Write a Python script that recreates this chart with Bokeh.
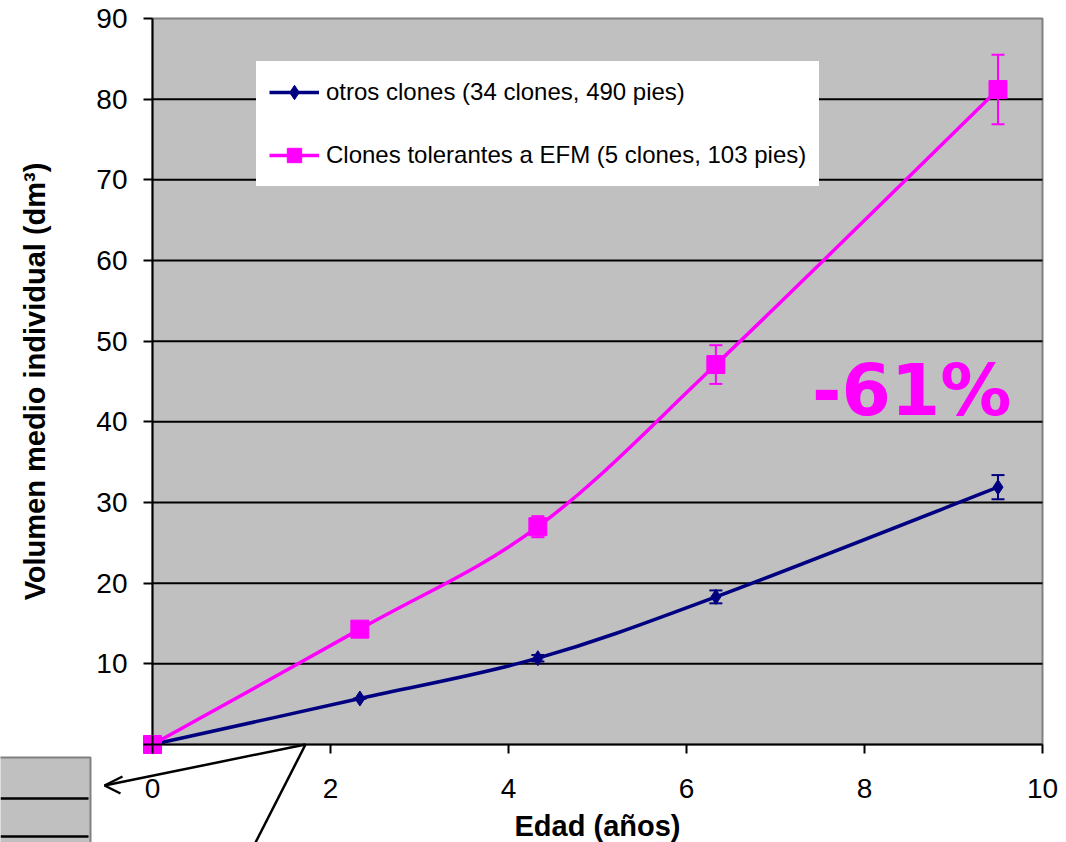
from bokeh.plotting import figure
from bokeh.models import (Range1d, Legend, LegendItem, Whisker, TeeHead, ColumnDataSource,
                          FixedTicker, PolyAnnotation, BoxAnnotation, Label)
from bokeh.embed import file_html
from bokeh.resources import INLINE

# ---- data ----
edad = [0.0, 2.33, 4.33, 6.33, 9.5]
otros = [0.0, 5.7, 10.7, 18.3, 31.9]
otros_err = [0.0, 0.0, 0.4, 0.8, 1.5]
efm = [0.0, 14.3, 27.0, 47.1, 81.2]
efm_err = [0.0, 0.0, 1.3, 2.4, 4.3]
x_ticks = [0, 2, 4, 6, 8, 10]
y_ticks = [0, 10, 20, 30, 40, 50, 60, 70, 80, 90]
label_otros = "otros clones (34 clones, 490 pies)"
label_efm = "Clones tolerantes a EFM (5 clones, 103 pies)"
diff_text = "-61%"

NAVY = "#000080"
MAG = "#FF00FF"
FONT = "Liberation Sans"

W, H = 1066, 842
# pixel geometry of the plotting area inside the canvas
PL, PR, PT, PB = 152, 1042, 18, 744
x0, x1 = x_ticks[0], x_ticks[-1]
y0, y1 = y_ticks[0], y_ticks[-1]
sx = (PR - PL) / (x1 - x0)
sy = (PB - PT) / (y1 - y0)

p = figure(width=W, height=H, output_backend="svg", toolbar_location=None,
           x_range=Range1d(x0 - PL / sx, x1 + (W - PR) / sx),
           y_range=Range1d(y0 - (H - PB) / sy, y1 + PT / sy),
           min_border=0, min_border_left=0, min_border_right=0, min_border_top=0, min_border_bottom=0)
p.background_fill_color = "white"
p.border_fill_color = "white"
p.outline_line_color = None
p.xgrid.visible = False
p.ygrid.visible = False

# grey plot area
p.add_layout(BoxAnnotation(left=x0, right=x1, bottom=y0, top=y1, fill_color="#C0C0C0", fill_alpha=1,
                           line_color="#808080", line_alpha=1, line_width=2, level="image"))
# horizontal grid lines (inside the plot area only)
gy = y_ticks[1:-1]
p.segment(x0=[x0] * len(gy), x1=[x1] * len(gy), y0=gy, y1=gy, line_color="black", line_width=2,
          level="underlay")

p.xaxis.fixed_location = y0
p.yaxis.fixed_location = x0
p.xaxis.bounds = (x0, x1)
p.yaxis.bounds = (y0, y1)

for ax in (p.xaxis[0], p.yaxis[0]):
    ax.axis_line_color = "black"
    ax.axis_line_width = 2
    ax.major_tick_line_color = "black"
    ax.major_tick_line_width = 2
    ax.major_tick_out = 9
    ax.major_tick_in = 0
    ax.minor_tick_line_color = None
    ax.major_label_text_font = FONT
    ax.major_label_text_font_size = "28px"
    ax.major_label_text_color = "black"
    ax.axis_label_text_font = FONT
    ax.axis_label_text_font_size = "29px"
    ax.axis_label_text_font_style = "bold"
    ax.axis_label_text_color = "black"

p.xaxis.ticker = FixedTicker(ticks=x_ticks)
p.yaxis.ticker = FixedTicker(ticks=y_ticks)
p.yaxis.major_label_overrides = {0: ""}
p.xaxis.axis_label = "Edad (años)"
p.yaxis.axis_label = "Volumen medio individual (dm³)"
p.xaxis.major_label_standoff = 25
p.xaxis.axis_label_standoff = 9
p.yaxis.major_label_standoff = 16
p.yaxis.axis_label_standoff = 42


def smooth(xs, ys):
    n = len(xs)
    d = dict(x0=[], y0=[], x1=[], y1=[], cx0=[], cy0=[], cx1=[], cy1=[])
    for i in range(n - 1):
        im1 = max(i - 1, 0)
        ip2 = min(i + 2, n - 1)
        d["x0"].append(xs[i]); d["y0"].append(ys[i])
        d["x1"].append(xs[i + 1]); d["y1"].append(ys[i + 1])
        d["cx0"].append(xs[i] + (xs[i + 1] - xs[im1]) / 6)
        d["cy0"].append(ys[i] + (ys[i + 1] - ys[im1]) / 6)
        d["cx1"].append(xs[i + 1] - (xs[ip2] - xs[i]) / 6)
        d["cy1"].append(ys[i + 1] - (ys[ip2] - ys[i]) / 6)
    return ColumnDataSource(d)


r_line_o = p.bezier(x0="x0", y0="y0", x1="x1", y1="y1", cx0="cx0", cy0="cy0", cx1="cx1", cy1="cy1",
                    source=smooth(edad, otros), line_color=NAVY, line_width=3.5)
r_line_e = p.bezier(x0="x0", y0="y0", x1="x1", y1="y1", cx0="cx0", cy0="cy0", cx1="cx1", cy1="cy1",
                    source=smooth(edad, efm), line_color=MAG, line_width=3.5)

src_o = ColumnDataSource(dict(x=edad, y=otros,
                              lo=[a - b for a, b in zip(otros, otros_err)],
                              hi=[a + b for a, b in zip(otros, otros_err)]))
src_e = ColumnDataSource(dict(x=edad, y=efm,
                              lo=[a - b for a, b in zip(efm, efm_err)],
                              hi=[a + b for a, b in zip(efm, efm_err)]))

for src, col in ((src_o, NAVY), (src_e, MAG)):
    w = Whisker(source=src, base="x", upper="hi", lower="lo", line_color=col, line_width=2,
                upper_head=TeeHead(size=13, line_color=col, line_width=2),
                lower_head=TeeHead(size=13, line_color=col, line_width=2))
    p.add_layout(w)

r_pt_o = p.scatter("x", "y", source=src_o, marker="diamond", size=15, fill_color=NAVY, line_color=NAVY)
r_pt_e = p.scatter("x", "y", source=src_e, marker="square", size=18, fill_color=MAG, line_color=MAG)

legend = Legend(items=[LegendItem(label=label_otros, renderers=[r_line_o, r_pt_o]),
                       LegendItem(label=label_efm, renderers=[r_line_e, r_pt_e])],
                location=(256, H - 186))
legend.background_fill_color = "white"
legend.background_fill_alpha = 1
legend.border_line_color = "white"
legend.border_line_width = 1
legend.label_text_font = FONT
legend.label_text_font_size = "24px"
legend.label_text_color = "black"
legend.glyph_width = 50
legend.glyph_height = 36
legend.spacing = 27
legend.padding = 12
legend.margin = 0
legend.label_standoff = 7
legend.label_height = 36
p.add_layout(legend, "center")

p.add_layout(Label(x=8.53, y=43.9, text=diff_text, text_font="DejaVu Sans",
                   text_font_style="bold", text_font_size="71px", text_color=MAG,
                   text_align="center", text_baseline="middle"))

# stray drawing artefacts below the chart (canvas pixel units, top-down)
p.add_layout(PolyAnnotation(xs=[-2, 90, 90, -2], ys=[757, 757, 850, 850],
                            xs_units="canvas", ys_units="canvas",
                            fill_color="#C0C0C0", fill_alpha=1, line_color="#808080", line_alpha=1,
                            line_width=2, level="overlay"))
for sxs, sys in (([0, 88], [798, 798]), ([0, 88], [836, 836]),
                 ([305, 104], [744, 785]), ([104, 122], [785, 776]), ([104, 120], [785, 793]),
                 ([305, 255], [744, 842])):
    p.add_layout(PolyAnnotation(xs=sxs, ys=sys, xs_units="canvas", ys_units="canvas",
                                fill_alpha=0, line_color="black", line_alpha=1, line_width=2.5,
                                level="overlay"))

open("out.html", "w").write(file_html(p, INLINE))
